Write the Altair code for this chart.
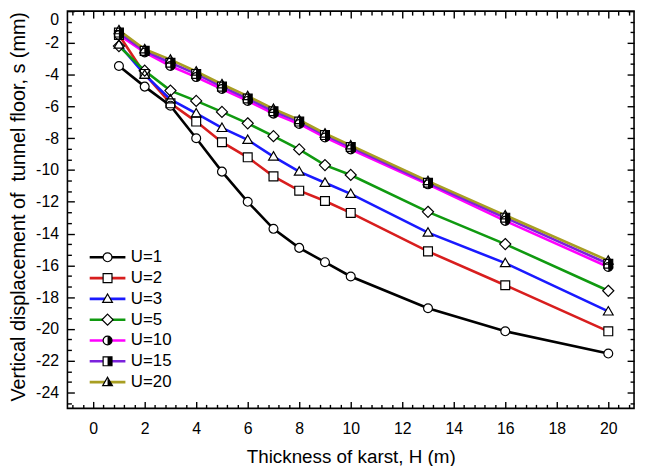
import altair as alt
import pandas as pd

# ---------------- data ----------------
H = [1, 2, 3, 4, 5, 6, 7, 8, 9, 10, 13, 16, 20]
SERIES = ["U=1", "U=2", "U=3", "U=5", "U=10", "U=15", "U=20"]
U1 = [-3.45, -4.75, -5.95, -8.0, -10.1, -12.0, -13.7, -14.9, -15.8, -16.7, -18.7, -20.15, -21.55]
U2 = [-1.5, -3.95, -5.8, -6.95, -8.25, -9.2, -10.4, -11.3, -11.95, -12.7, -15.12, -17.25, -20.15]
U3 = [-2.1, -4.0, -5.55, -6.43, -7.35, -8.1, -9.15, -10.1, -10.8, -11.5, -13.94, -15.86, -18.9]
U5 = [-2.2, -3.75, -5.0, -5.65, -6.34, -7.06, -7.87, -8.7, -9.69, -10.31, -12.63, -14.66, -17.6]
U10 = [-1.5, -2.6, -3.45, -4.15, -4.9, -5.65, -6.45, -7.1, -7.95, -8.7, -10.9, -13.2, -16.1]
U15 = [-1.35, -2.5, -3.25, -3.95, -4.75, -5.5, -6.3, -6.95, -7.8, -8.55, -10.8, -13.0, -15.9]
U20 = [-1.2, -2.4, -3.05, -3.8, -4.6, -5.35, -6.15, -6.85, -7.7, -8.45, -10.7, -12.85, -15.7]
VALUES = [U1, U2, U3, U5, U10, U15, U20]

COLORS = ["#000000", "#d81e1e", "#1a1aff", "#109a10", "#ff00ff", "#7b22dc", "#a89e22"]

X_TITLE = "Thickness of karst, H (m)"
Y_TITLE = "Vertical displacement of \u00a0tunnel floor, s (mm)"

X_DOMAIN = [-1, 21]
Y_DOMAIN = [-25, 0]
X_MAJOR = list(range(0, 21, 2))
Y_MAJOR = list(range(-24, 1, 2))
X_MINOR = [round(-0.8 + 0.4 * i, 2) for i in range(55) if round((-0.8 + 0.4 * i) % 2, 2) not in (0.0, 2.0)]
Y_MINOR = [round(-2 * k / 3, 4) for k in range(1, 38) if k % 3 != 0]

rows = []
for name, vals in zip(SERIES, VALUES):
    for h, s in zip(H, vals):
        rows.append({"H": h, "s": s, "U": name})
df = pd.DataFrame(rows)

# ---------------- shapes ----------------
TRI = "M0,-1.1L1.1,0.8L-1.1,0.8Z"
DIAM = "M0,-1.25L1.25,0L0,1.25L-1.25,0Z"
OPEN_SHAPES = ["circle", "square", TRI, DIAM, "circle", "square", TRI]
EMPTY = "M0,0Z"
HALF_SHAPES = [EMPTY, EMPTY, EMPTY, EMPTY,
               "M0,-1A1,1,0,0,1,0,1Z",
               "M0,-1L1,-1L1,1L0,1Z",
               "M0,-1.1L1.1,0.8L0,0.8Z"]
LINE_SYMBOL = "M-4.03,0L4.03,0"

FONT = "Liberation Sans"
MSIZE = 80
LEG_X = 32
LEG_Y = 240
LEG_FONT = 17
LEG_ROWPAD = 3
LEG_LABOFF = 15


def axis(orient, values, size, labels, title=None, lab_pad=10, title_pad=6, title_size=19,
         flush=False, **extra):
    kw = dict(orient=orient, values=values, tickSize=size, offset=-size, domain=False, grid=False,
              labels=labels, tickColor="black", tickWidth=1.4)
    if labels:
        kw.update(labelFont=FONT, labelFontSize=16, labelColor="black", labelPadding=lab_pad,
                  labelExpr="'' + datum.value")
        if flush:
            kw.update(labelFlush=True)
    if title:
        kw.update(title=title, titleFont=FONT, titleFontSize=title_size, titleFontWeight="normal",
                  titleColor="black", titlePadding=title_pad)
    else:
        kw.update(title=None)
    kw.update(extra)
    return alt.Axis(**kw)


def legend(label_opacity, z, **extra):
    kw = dict(orient="none", legendX=LEG_X, legendY=LEG_Y, title=None,
              symbolSize=MSIZE, labelFont=FONT, labelFontSize=LEG_FONT, labelColor="black",
              labelOpacity=label_opacity, labelOffset=LEG_LABOFF, rowPadding=LEG_ROWPAD,
              padding=0, zindex=z, symbolOpacity=1)
    kw.update(extra)
    return alt.Legend(**kw)


xs = alt.Scale(domain=X_DOMAIN, nice=False, zero=False)
ys = alt.Scale(domain=Y_DOMAIN, nice=False, zero=False)

base = alt.Chart(df)

lines = base.mark_line(strokeWidth=2.6).encode(
    x=alt.X("H:Q", scale=xs, axis=axis("bottom", X_MAJOR, 7, True, X_TITLE,
                                       lab_pad=12, title_pad=12, title_size=19)),
    y=alt.Y("s:Q", scale=ys, axis=axis("left", Y_MAJOR, 7, True, Y_TITLE,
                                       lab_pad=9, title_pad=7, title_size=20, flush=True,
                                       titleY=197)),
    color=alt.Color("U:N", scale=alt.Scale(domain=SERIES, range=COLORS),
                    legend=legend(1, 1, symbolType=LINE_SYMBOL, symbolStrokeWidth=2.6)),
    order=alt.Order("H:Q"),
)

white_pts = base.mark_point(filled=True, color="white", strokeWidth=0, size=MSIZE, opacity=1).encode(
    x=alt.X("H:Q", scale=xs, axis=axis("bottom", X_MINOR, 4, False)),
    y=alt.Y("s:Q", scale=ys, axis=axis("left", Y_MINOR, 4, False)),
    shape=alt.Shape("U:N", scale=alt.Scale(domain=SERIES, range=OPEN_SHAPES),
                    legend=legend(0, 2, symbolFillColor="white", symbolStrokeWidth=0)),
)

half_pts = base.transform_filter(
    alt.FieldOneOfPredicate(field="U", oneOf=SERIES[4:])
).mark_point(filled=True, color="black", strokeWidth=0, size=MSIZE, opacity=1).encode(
    x=alt.X("H:Q", scale=xs, axis=axis("top", X_MAJOR, 7, False)),
    y=alt.Y("s:Q", scale=ys, axis=axis("right", Y_MAJOR, 7, False)),
    shape=alt.Shape("U:N", scale=alt.Scale(domain=SERIES, range=HALF_SHAPES),
                    legend=legend(0, 3, symbolFillColor="black", symbolStrokeWidth=0)),
)

outline_pts = base.mark_point(filled=False, color="black", strokeWidth=1.2, size=MSIZE, opacity=1).encode(
    x=alt.X("H:Q", scale=xs, axis=axis("top", X_MINOR, 4, False)),
    y=alt.Y("s:Q", scale=ys, axis=axis("right", Y_MINOR, 4, False)),
    shape=alt.Shape("U:N", scale=alt.Scale(domain=SERIES, range=OPEN_SHAPES),
                    legend=legend(0, 4, symbolStrokeColor="black", symbolStrokeWidth=1.2)),
)

chart = alt.layer(lines, white_pts, half_pts, outline_pts).resolve_scale(
    x="independent", y="independent", shape="independent"
).resolve_axis(x="independent", y="independent").properties(
    width=572, height=401,
    autosize=alt.AutoSizeParams(type="none"),
    padding={"left": 60, "top": 1, "right": 4, "bottom": 56},
    background="white",
).configure_view(stroke="black", strokeWidth=1.6)

chart.save("out.html", embed_options={"renderer": "svg", "actions": False})
